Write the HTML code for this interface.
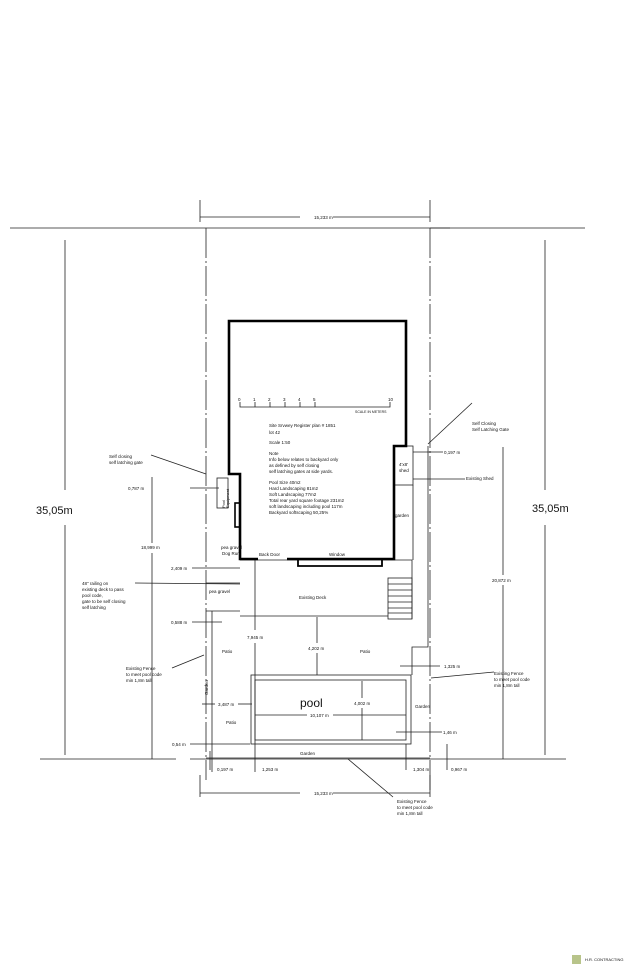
<!DOCTYPE html>
<html><head><meta charset="utf-8"><style>
html,body{margin:0;padding:0;background:#fff;}
svg{display:block;}
text{font-family:"Liberation Sans",sans-serif;fill:#111;}
</style></head><body>
<svg width="630" height="974" viewBox="0 0 630 974" xmlns="http://www.w3.org/2000/svg">
<rect width="630" height="974" fill="#fff"/>
<g stroke="#222" stroke-width="0.8" fill="none">
<!-- top dim -->
<line x1="200" y1="200" x2="200" y2="222"/><line x1="430" y1="200" x2="430" y2="222"/>
<line x1="200" y1="217" x2="300" y2="217"/><line x1="333" y1="217" x2="430" y2="217"/>
<!-- lot lines -->
<line x1="10" y1="228" x2="450" y2="228"/><line x1="430" y1="228" x2="585" y2="228"/>
<line x1="206" y1="228" x2="206" y2="780" stroke-dasharray="30,3,2,3"/>
<line x1="430" y1="228" x2="430" y2="790" stroke-dasharray="30,3,2,3"/>
<line x1="40" y1="759" x2="176" y2="759"/><line x1="190" y1="759" x2="566" y2="759"/>
<!-- 35.05 -->
<line x1="65" y1="240" x2="65" y2="490"/><line x1="65" y1="525" x2="65" y2="755"/>
<line x1="545" y1="240" x2="545" y2="490"/><line x1="545" y1="525" x2="545" y2="755"/>
<!-- deck -->
<polyline points="240,560 412,560 412,619"/>
<line x1="240" y1="616" x2="388" y2="616"/>
<rect x="388" y="578" width="24" height="41"/>
<line x1="388" y1="584" x2="412" y2="584"/><line x1="388" y1="590" x2="412" y2="590"/><line x1="388" y1="596" x2="412" y2="596"/><line x1="388" y1="602" x2="412" y2="602"/><line x1="388" y1="608" x2="412" y2="608"/><line x1="388" y1="613" x2="412" y2="613"/>
<!-- left yard -->
<line x1="206" y1="583" x2="240" y2="583"/>
<line x1="206" y1="611" x2="240" y2="611"/>
<line x1="212" y1="611" x2="212" y2="772"/>
<rect x="217" y="478" width="11" height="30"/>
<!-- right -->
<polyline points="428,446 428,647 412,647 412,675"/>
<rect x="394" y="446" width="19" height="39"/>
<line x1="413" y1="485" x2="413" y2="560"/>
<!-- pool -->
<rect x="251" y="675" width="160" height="69"/>
<rect x="255" y="680" width="151" height="60"/>
<line x1="206" y1="758" x2="430" y2="758"/>
<!-- dims -->
<line x1="255" y1="560" x2="255" y2="630"/><line x1="255" y1="643" x2="255" y2="772"/>
<line x1="317" y1="617" x2="317" y2="643"/><line x1="317" y1="653" x2="317" y2="675"/>
<line x1="362" y1="681" x2="362" y2="698"/><line x1="362" y1="708" x2="362" y2="740"/>
<line x1="255" y1="715" x2="307" y2="715"/><line x1="333" y1="715" x2="406" y2="715"/>
<line x1="202" y1="704" x2="215" y2="704"/><line x1="238" y1="704" x2="252" y2="704"/>
<line x1="152" y1="477" x2="152" y2="543"/><line x1="152" y1="553" x2="152" y2="759"/>
<line x1="503" y1="447" x2="503" y2="575"/><line x1="503" y1="585" x2="503" y2="759"/>
<line x1="190" y1="488" x2="219" y2="488"/>
<line x1="192" y1="568" x2="240" y2="568"/>
<line x1="192" y1="622" x2="222" y2="622"/>
<line x1="190" y1="744" x2="250" y2="744"/>
<line x1="210" y1="751" x2="210" y2="770"/>
<line x1="406" y1="744" x2="406" y2="770"/><line x1="447" y1="744" x2="447" y2="770"/>
<line x1="400" y1="666" x2="440" y2="666"/>
<line x1="396" y1="732" x2="442" y2="732"/>
<line x1="413" y1="452" x2="443" y2="452"/>
<line x1="413" y1="479" x2="465" y2="479"/>
<line x1="200" y1="775" x2="200" y2="797"/><line x1="430" y1="775" x2="430" y2="797"/>
<line x1="200" y1="793" x2="300" y2="793"/><line x1="333" y1="793" x2="430" y2="793"/>
<!-- leaders -->
<line x1="151" y1="455" x2="206" y2="474"/>
<line x1="135" y1="583" x2="240" y2="584"/>
<line x1="172" y1="668" x2="204" y2="655"/>
<line x1="472" y1="403" x2="428" y2="444"/>
<line x1="431" y1="678" x2="494" y2="672"/>
<line x1="348" y1="759" x2="393" y2="797"/>
<!-- scale bar -->
<polyline points="240,402 240,407 255,407 255,402 255,407 270,407 270,402"/>
<polyline points="270,407 285,407 285,402 285,407 300,407 300,402 300,407 315,407 315,402 315,407 390,407 390,402"/>
</g>
<!-- house thick -->
<g stroke="#000" stroke-width="2.6" fill="none">
<polyline points="258,559 240,559 240,474 229,474 229,321 406,321 406,446 394,446 394,559 287,559"/>
<rect x="235" y="503" width="5" height="24" stroke-width="1.6"/>
<polyline points="298,559 298,566 382,566 382,559" stroke-width="1.8"/>
</g>
<g font-size="4.5">
<text x="314" y="219">15,233 m</text>
<text x="314" y="795">15,233 m</text>
<text x="238" y="401">0</text><text x="253" y="401">1</text><text x="268" y="401">2</text><text x="283" y="401">3</text><text x="298" y="401">4</text><text x="313" y="401">5</text><text x="388" y="401">10</text>
<text x="355" y="413" font-size="3.5">SCALE IN METERS</text>
<text x="269" y="427">Site Srvwey Register plan # 1851</text>
<text x="269" y="434">lot 42</text>
<text x="269" y="444">Scale 1:50</text>
<text x="269" y="455">Note</text>
<text x="269" y="461">Info below relates to backyard only</text>
<text x="269" y="467">as defined by self closing</text>
<text x="269" y="473">self latching gates at side yards.</text>
<text x="269" y="484">Pool Size 40m2</text>
<text x="269" y="490">Hard Landscaping 81m2</text>
<text x="269" y="496">Soft Landscaping 77m2</text>
<text x="269" y="502">Total rear yard square footage 231m2</text>
<text x="269" y="508">soft landscaping including pool 117m</text>
<text x="269" y="514">Backyard softscaping 50,25%</text>
<text x="399" y="466">4'x8'</text><text x="399" y="472">shed</text>
<text x="395" y="517">garden</text>
<text x="221" y="549">pea gravel</text><text x="222" y="555">Dog Run</text>
<text x="209" y="593">pea gravel</text>
<text x="259" y="556">Back Door</text><text x="329" y="556">Window</text>
<text x="299" y="599">Existing Deck</text>
<text x="222" y="653">Patio</text><text x="360" y="653">Patio</text><text x="226" y="724">Patio</text>
<text x="247" y="639">7,945 m</text>
<text x="308" y="650">4,202 m</text>
<text x="354" y="705">4,002 m</text>
<text x="310" y="717">10,107 m</text>
<text x="218" y="706">3,487 m</text>
<text x="300" y="755">Garden</text><text x="415" y="708">Garden</text>
<text x="300" y="707" font-size="12" fill="#333">pool</text>
<text x="128" y="490">0,787 m</text>
<text x="141" y="549">18,999 m</text>
<text x="171" y="570">2,409 m</text>
<text x="171" y="624">0,588 m</text>
<text x="172" y="746">0,54 m</text>
<text x="217" y="771">0,197 m</text><text x="262" y="771">1,253 m</text>
<text x="413" y="771">1,304 m</text><text x="451" y="771">0,967 m</text>
<text x="443" y="734">1,46 m</text>
<text x="444" y="668">1,325 m</text>
<text x="444" y="454">0,197 m</text>
<text x="492" y="582">20,872 m</text>
<text x="466" y="480">Existing Shed</text>
<text x="472" y="425">Self Closing</text><text x="472" y="431">Self Latching Gate</text>
<text x="109" y="458">Self closing</text><text x="109" y="464">self latching gate</text>
<text x="82" y="585">48" railing on</text><text x="82" y="591">existing deck to pass</text><text x="82" y="597">pool code,</text><text x="82" y="603">gate to be self closing</text><text x="82" y="609">self latching</text>
<text x="126" y="670">Existing Fence</text><text x="126" y="676">to meet pool code</text><text x="126" y="682">min 1,8m tall</text>
<text x="494" y="675">Existing Fence</text><text x="494" y="681">to meet pool code</text><text x="494" y="687">min 1,8m tall</text>
<text x="397" y="803">Existing Fence</text><text x="397" y="809">to meet pool code</text><text x="397" y="815">min 1,8m tall</text>
</g>
<text x="208" y="695" font-size="4.5" transform="rotate(-90 208 695)">Garden</text>
<text x="225" y="508" font-size="4" transform="rotate(-90 225 508)">Pool</text>
<text x="229" y="508" font-size="4" transform="rotate(-90 229 508)">Equipment</text>
<text x="36" y="514" font-size="11" fill="#333">35,05m</text>
<text x="532" y="512" font-size="11" fill="#333">35,05m</text>
<rect x="572" y="955" width="9" height="9" fill="#b8c48a"/>
<text x="585" y="961" font-size="4" fill="#999">H.R. CONTRACTING</text>
</svg>
</body></html>
